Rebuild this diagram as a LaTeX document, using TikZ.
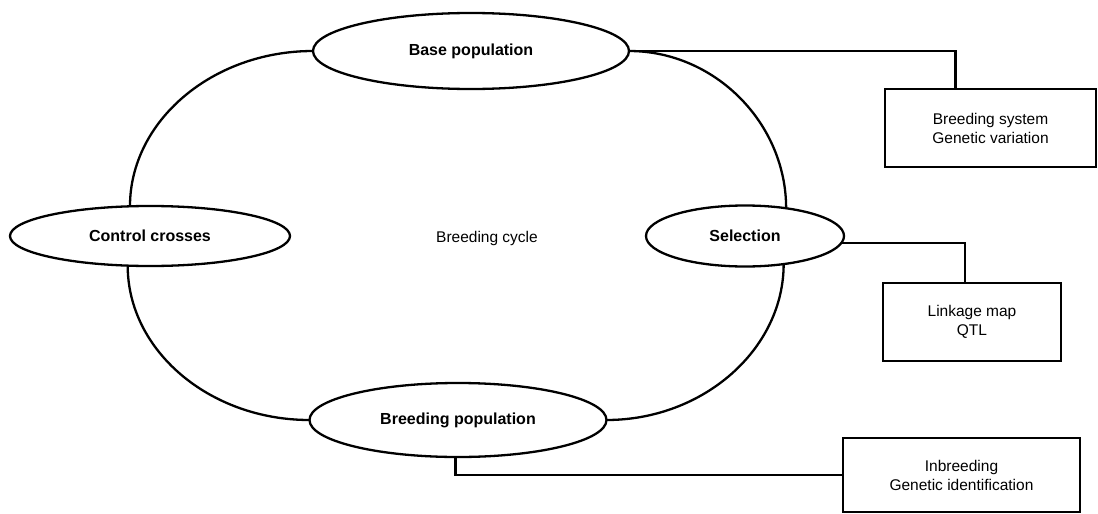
\documentclass[tikz,border=0pt]{standalone}
\usepackage{fontspec}
\setmainfont{Liberation Sans}
\usetikzlibrary{shapes.geometric}
\tikzset{stage/.style={ellipse,draw,line width=2.3pt,inner sep=0pt,outer sep=0pt,
 font=\fontsize{16}{19}\selectfont\bfseries},infobox/.style={draw,line width=2.3pt,
 align=center,inner sep=0pt,outer sep=0pt},link/.style={line width=2.3pt}}

\begin{document}
\begin{tikzpicture}[x=1pt,y=-1pt,every node/.style={font=\fontsize{15.5}{19}\selectfont}]
\useasboundingbox (0,0) rectangle (1098,514);
\node[stage,minimum width=316pt,minimum height=76pt] (base) at (471,51) {Base population};
\node[stage,minimum width=280pt,minimum height=60pt] (ctrl) at (150,236) {Control crosses};
\node[stage,minimum width=198pt,minimum height=61pt] (sel) at (745,236) {Selection};
\node[stage,minimum width=297pt,minimum height=74pt] (bpop) at (458,420) {Breeding population};
\node (cycle) at (487,238) {Breeding cycle};
\node[infobox,minimum width=211pt,minimum height=78pt] (sysbox) at (990.5,128) {Breeding system\\Genetic variation};
\node[infobox,minimum width=178pt,minimum height=78pt] (mapbox) at (972,322) {Linkage map\\QTL};
\node[infobox,minimum width=237pt,minimum height=74pt] (inbox) at (961.5,475) {Inbreeding\\Genetic identification};
\draw[link] (base.west) .. controls +(-101,0) and +(0,-85) .. (ctrl.124);
\draw[link] (ctrl.233) .. controls +(0,85) and +(-100,0) .. (bpop.west);
\draw[link] (base.east) .. controls +(86,0) and +(0,-85) .. (sel.34);
\draw[link] (sel.324) .. controls +(0,85) and +(97,0) .. (bpop.east);
\draw[link] (base.east) -| ([xshift=-35pt]sysbox.north);
\draw[link] (sel.-4) -| ([xshift=-7pt]mapbox.north);
\draw[link] (bpop.266) |- (inbox.west);
\end{tikzpicture}
\end{document}
